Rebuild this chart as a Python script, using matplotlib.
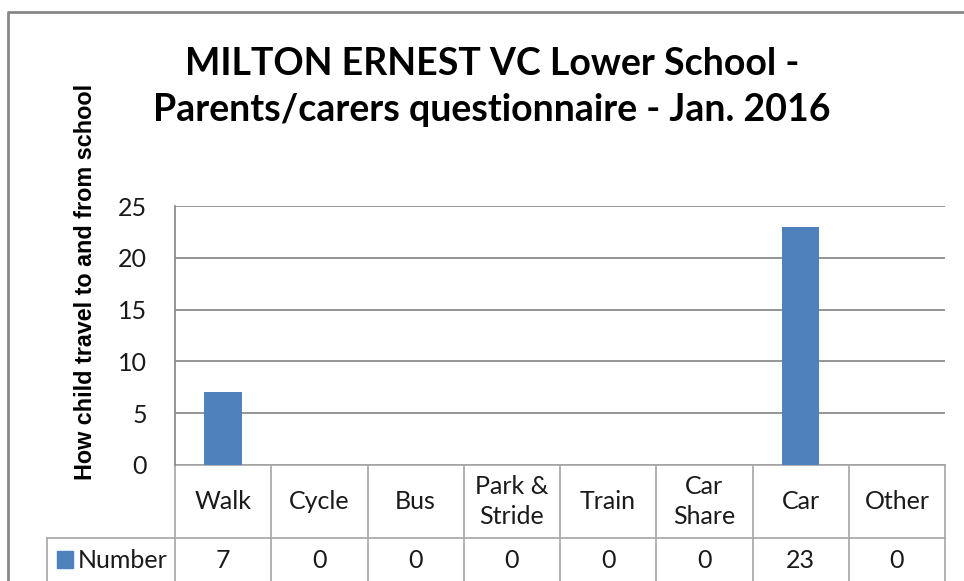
import matplotlib.pyplot as plt
import matplotlib.transforms as mtransforms
from matplotlib.patches import Rectangle

categories = ['Walk', 'Cycle', 'Bus', 'Park &\nStride', 'Train', 'Car\nShare', 'Car', 'Other']
values = [7, 0, 0, 0, 0, 0, 23, 0]
series_name = 'Number'
yticks = [0, 5, 10, 15, 20, 25]

bar_color = '#4F81BD'
grid_color = '#8C8C8C'
table_color = '#A6A6A6'
body_font = ['Lato', 'DejaVu Sans']

fig = plt.figure(figsize=(9.64, 5.81), dpi=100)
ax = fig.add_axes([175/964, 1-465/581, 770/964, 259/581])

x = range(len(categories))
ax.bar(x, values, width=0.39, color=bar_color, zorder=3)
ax.set_xlim(-0.5, len(categories) - 0.5)
ax.set_ylim(0, 25)
ax.set_yticks(yticks)
ax.set_yticklabels([str(t) for t in yticks], fontsize=18, family=body_font, color='#1a1a1a')
ax.tick_params(axis='y', length=0, pad=20)
ax.set_xticks([])
ax.grid(axis='y', color=grid_color, linewidth=1.3, zorder=0)
for s in ['top', 'right', 'bottom']:
    ax.spines[s].set_visible(False)
ax.spines['left'].set_color(grid_color)
ax.spines['left'].set_linewidth(1.3)

# data table under the axis
trans = mtransforms.blended_transform_factory(ax.transData, ax.transAxes)
row1 = -(538 - 465) / 259
row2 = -(582 - 465) / 259
legend_left = (47 - 175) / 770
lw = 1.2
ax.plot([-0.5, 7.5], [0, 0], transform=trans, color=table_color, lw=lw, clip_on=False)
ax.plot([legend_left, 1], [row1, row1], transform=ax.transAxes, color=table_color, lw=lw, clip_on=False)
ax.plot([legend_left, 1], [row2, row2], transform=ax.transAxes, color=table_color, lw=lw, clip_on=False)
ax.plot([legend_left, legend_left], [row1, row2], transform=ax.transAxes, color=table_color, lw=lw, clip_on=False)
for i in range(len(categories) + 1):
    ax.plot([i - 0.5, i - 0.5], [0, row2], transform=trans, color=table_color, lw=lw, clip_on=False)

for i, (c, v) in enumerate(zip(categories, values)):
    ax.text(i, row1 / 2, c, transform=trans, ha='center', va='center', fontsize=18,
            family=body_font, color='#1a1a1a', linespacing=1.38)
    ax.text(i, (row1 + row2) / 2, str(v), transform=trans, ha='center', va='center', fontsize=18,
            family=body_font, color='#1a1a1a')

ax.add_patch(Rectangle((legend_left + 10/770, (row1 + row2) / 2 - 8/259), 16/770, 17/259,
                       transform=ax.transAxes, color=bar_color, clip_on=False))
ax.text(legend_left + 31/770, (row1 + row2) / 2, series_name, transform=ax.transAxes,
        ha='left', va='center', fontsize=18, family=body_font, color='#1a1a1a')

fig.text(492/964, 1 - 87/581, 'MILTON ERNEST VC Lower School -\nParents/carers questionnaire - Jan. 2016',
         ha='center', va='center', fontsize=27, fontweight='bold', family=body_font, linespacing=1.42)
fig.text(86/964, 1 - 282/581, 'How child travel to and from school', rotation=90,
         ha='center', va='center', fontsize=16.8, fontweight='bold', family=['Liberation Sans', 'DejaVu Sans'])

# outer chart border
fig.add_artist(plt.Line2D([8/964, 8/964, 1.0], [0, 1 - 12/581, 1 - 12/581],
                          transform=fig.transFigure, color='#878787', lw=2))

fig.savefig('out.png', dpi=100)
